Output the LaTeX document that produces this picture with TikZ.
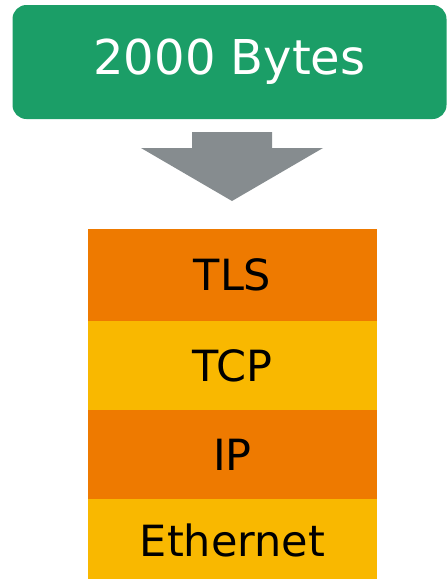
\documentclass[tikz,border=0pt]{standalone}
\usepackage{fontspec}
\setmainfont{DejaVu Sans}
\usetikzlibrary{positioning}

\definecolor{boxgreen}{HTML}{1B9E67}
\definecolor{arrowgray}{HTML}{868C8F}
\definecolor{layerorange}{HTML}{EE7A00}
\definecolor{layeryellow}{HTML}{F9B800}

\tikzset{
  layer/.style={minimum width=289pt, minimum height=89.5pt, inner sep=0pt,
                font=\fontsize{43}{43}\selectfont, text=black},
}

\begin{document}
\begin{tikzpicture}[x=1pt,y=1pt]
        \useasboundingbox (0,0) rectangle (447,-579);

        % 数据块
        \node[fill=boxgreen, rounded corners=14pt, minimum width=434pt, minimum height=114pt,
              inner sep=0pt, text=white, font=\fontsize{48}{48}\selectfont]
              (bytes) at (229.5,-62) {2000 Bytes};

        % 协议栈
        \node[layer, fill=layerorange, minimum height=91.5pt, anchor=north] (tls) at (232.5,-229) {TLS};
        \node[layer, fill=layeryellow, below=-0.5pt of tls] (tcp) {TCP};
        \node[layer, fill=layerorange, below=-0.5pt of tcp] (ip) {IP};
        \node[layer, fill=layeryellow, below=-0.5pt of ip, minimum height=82pt] (eth) {Ethernet};

        % 箭头
        \coordinate (tip) at ([yshift=28pt]tls.north -| 232,0);
        \fill[arrowgray] (192,-132) -- (272,-132) -- (272,-148) -- (323,-148)
              -- (tip) -- (141,-148) -- (192,-148) -- cycle;
    \end{tikzpicture}
\end{document}
